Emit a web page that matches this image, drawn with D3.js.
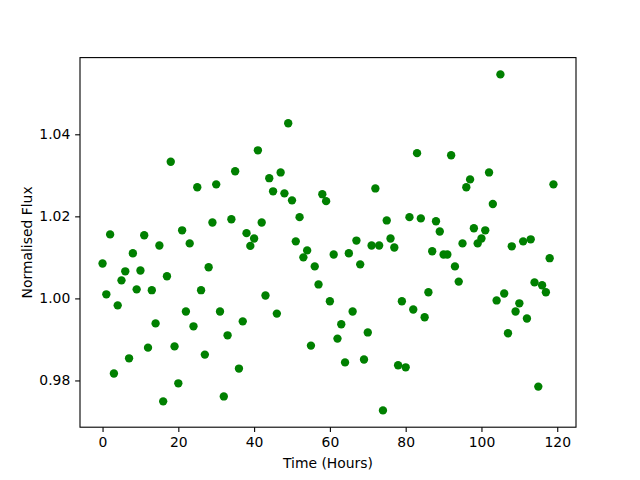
<!DOCTYPE html>
<html>
<head>
<meta charset="utf-8">
<script src="https://cdn.jsdelivr.net/npm/d3@7"></script>
<style>
  body { margin: 0; background: #fff; }
  svg { display: block; font-family: "DejaVu Sans", sans-serif; }
</style>
</head>
<body>
<svg id="chart"></svg>
<script>
// hourly normalised flux readings, index = hour
const flux = [
  1.0085, 1.0010, 1.0156, 0.9817, 0.9983, 1.0044, 1.0066, 0.9854, 1.0110, 1.0022,
  1.0068, 1.0154, 0.9880, 1.0020, 0.9939, 1.0129, 0.9749, 1.0054, 1.0333, 0.9883,
  0.9793, 1.0166, 0.9968, 1.0134, 0.9932, 1.0271, 1.0020, 0.9863, 1.0076, 1.0185,
  1.0278, 0.9968, 0.9761, 0.9910, 1.0193, 1.0310, 0.9829, 0.9944, 1.0159, 1.0128,
  1.0146, 1.0361, 1.0185, 1.0007, 1.0293, 1.0261, 0.9963, 1.0307, 1.0256, 1.0427,
  1.0239, 1.0139, 1.0198, 1.0100, 1.0117, 0.9885, 1.0078, 1.0034, 1.0254, 1.0237,
  0.9993, 1.0107, 0.9902, 0.9937, 0.9844, 1.0110, 0.9968, 1.0141, 1.0083, 0.9851,
  0.9917, 1.0129, 1.0268, 1.0129, 0.9727, 1.0190, 1.0146, 1.0124, 0.9837, 0.9993,
  0.9832, 1.0198, 0.9973, 1.0354, 1.0195, 0.9954, 1.0015, 1.0115, 1.0188, 1.0163,
  1.0107, 1.0107, 1.0349, 1.0078, 1.0041, 1.0134, 1.0271, 1.0290, 1.0171, 1.0134,
  1.0146, 1.0166, 1.0307, 1.0230, 0.9995, 1.0546, 1.0012, 0.9915, 1.0127, 0.9968,
  0.9988, 1.0139, 0.9951, 1.0144, 1.0039, 0.9785, 1.0032, 1.0015, 1.0098, 1.0278
];
const hours = flux.map((_, i) => i);
const xTicks = [0, 20, 40, 60, 80, 100, 120];
const yTicks = [0.98, 1.00, 1.02, 1.04];

const width = 640, height = 480;
const margin = {top: 57.6, right: 64, bottom: 52.8, left: 80};
const svg = d3.select("#chart").attr("width", width).attr("height", height);

// matplotlib-style 5% padding around the data
function padded(ext) {
  const p = (ext[1] - ext[0]) * 0.05;
  return [ext[0] - p, ext[1] + p];
}

const x = d3.scaleLinear()
  .domain(padded(d3.extent(hours)))
  .range([margin.left, width - margin.right]);
const y = d3.scaleLinear()
  .domain(padded(d3.extent(flux)))
  .range([height - margin.bottom, margin.top]);

const tick = 4.86;

const gx = svg.append("g")
  .attr("transform", `translate(0,${height - margin.bottom})`)
  .call(d3.axisBottom(x).tickValues(xTicks).tickFormat(d3.format("d"))
    .tickSize(tick).tickPadding(4.86));
const gy = svg.append("g")
  .attr("transform", `translate(${margin.left},0)`)
  .call(d3.axisLeft(y).tickValues(yTicks).tickFormat(d3.format(".2f"))
    .tickSize(tick).tickPadding(4.86));

[gx, gy].forEach(g => {
  g.select(".domain").remove();
  g.selectAll(".tick line").attr("stroke", "#000").attr("stroke-width", 1.1);
  g.selectAll(".tick text")
    .attr("fill", "#000")
    .attr("font-size", 13.9)
    .attr("font-family", "DejaVu Sans, sans-serif");
});

svg.append("g")
  .selectAll("circle")
  .data(flux)
  .enter()
  .append("circle")
  .attr("cx", (d, i) => x(hours[i]))
  .attr("cy", d => y(d))
  .attr("r", 4.17)
  .attr("fill", "#008000");

// frame
svg.append("rect")
  .attr("x", margin.left)
  .attr("y", margin.top)
  .attr("width", width - margin.left - margin.right)
  .attr("height", height - margin.top - margin.bottom)
  .attr("fill", "none")
  .attr("stroke", "#000")
  .attr("stroke-width", 1.1);

svg.append("text")
  .attr("x", margin.left + (width - margin.left - margin.right) / 2)
  .attr("y", 468)
  .attr("text-anchor", "middle")
  .attr("font-size", 13.9)
  .text("Time (Hours)");

svg.append("text")
  .attr("transform", `translate(32,${margin.top + (height - margin.top - margin.bottom) / 2}) rotate(-90)`)
  .attr("text-anchor", "middle")
  .attr("font-size", 13.9)
  .text("Normalised Flux");
</script>
</body>
</html>
